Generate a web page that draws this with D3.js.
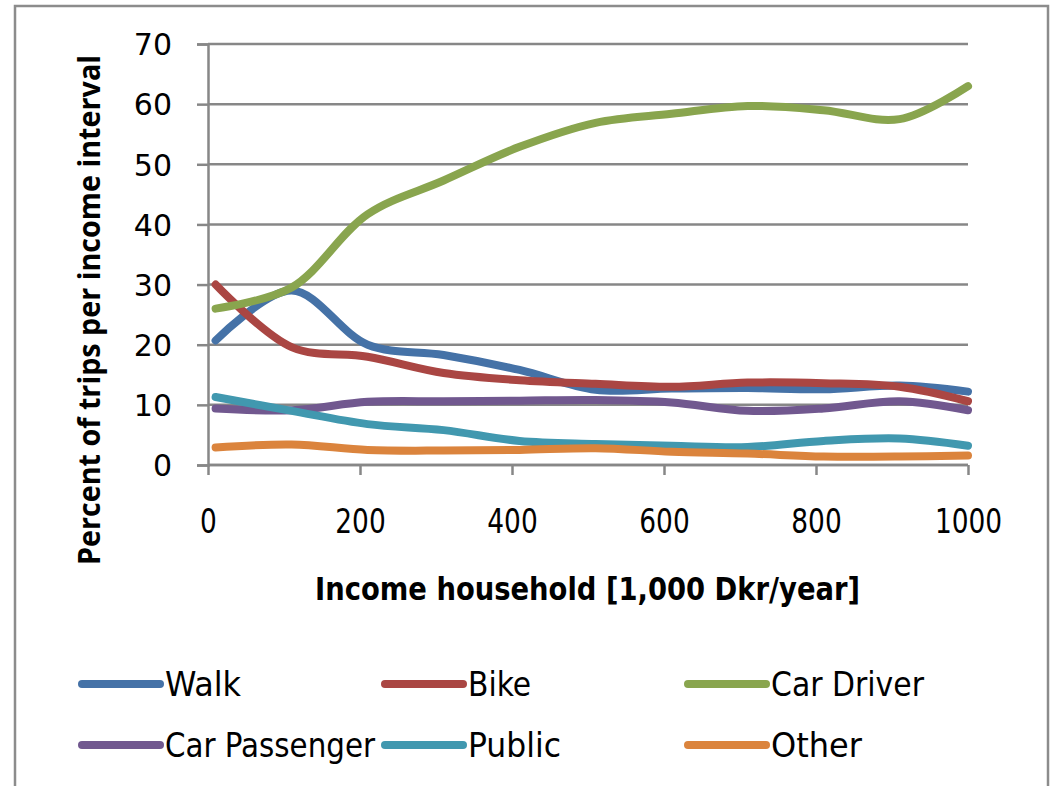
<!DOCTYPE html>
<html><head><meta charset="utf-8">
<script src="https://cdn.jsdelivr.net/npm/d3@7"></script>
<style>body{margin:0;background:#fff}svg{display:block}</style>
</head><body>
<svg id="c" width="1051" height="786"></svg>
<script>
const incomes = [10,110,210,310,410,510,610,710,810,910,1000];
const walk = [20.7,29.0,20.0,18.3,15.8,12.5,12.7,12.8,12.6,13.2,12.2];
const bike = [30.0,19.6,18.0,15.3,14.1,13.5,13.0,13.7,13.6,13.0,10.6];
const carDriver = [26.0,29.5,41.7,47.3,52.9,56.9,58.4,59.7,59.0,57.5,63.0];
const carPassenger = [9.4,9.1,10.5,10.6,10.7,10.8,10.4,9.0,9.4,10.6,9.1];
const publicT = [11.3,9.0,6.8,5.8,4.0,3.5,3.2,3.0,4.0,4.4,3.2];
const other = [2.9,3.4,2.5,2.4,2.5,2.8,2.2,1.9,1.4,1.4,1.6];
const seriesNames = ["Walk","Bike","Car Driver","Car Passenger","Public","Other"];
const seriesColors = ["#4572A7","#AA4643","#89A54E","#71588F","#4198AF","#DB843D"];
const seriesValues = [walk,bike,carDriver,carPassenger,publicT,other];
const xTicks = [0,200,400,600,800,1000];
const yTicks = [0,10,20,30,40,50,60,70];

const svg = d3.select("#c");
const grid = "#878787";
const narrow = "Liberation Sans Narrow, DejaVu Sans Condensed, DejaVu Sans, sans-serif";
// outer frame
svg.append("rect").attr("x",15).attr("y",6).attr("width",1033).attr("height",800)
  .attr("fill","none").attr("stroke","#8c8c8c").attr("stroke-width",2.5);

const x = d3.scaleLinear().domain([0,1000]).range([208,968]);
const y = d3.scaleLinear().domain([0,70]).range([465,44]);

// gridlines + y axis
const yAxis = d3.axisLeft(y).tickValues(yTicks).tickSize(11).tickFormat(d3.format("d"));
const gy = svg.append("g").attr("transform","translate(208,0)").call(yAxis);
gy.select(".domain").attr("stroke",grid).attr("stroke-width",2.5);
gy.selectAll(".tick line").attr("stroke",grid).attr("stroke-width",2.5);
gy.selectAll(".tick text").attr("x",-36).attr("dy","0.36em")
  .attr("font-family","DejaVu Sans, sans-serif").attr("font-size",30).attr("fill","#000");
svg.append("g").selectAll("line").data(yTicks).join("line")
  .attr("x1",208).attr("x2",968).attr("y1",d=>y(d)).attr("y2",d=>y(d))
  .attr("stroke",grid).attr("stroke-width",2.5);

const xAxis = d3.axisBottom(x).tickValues(xTicks).tickSize(10).tickFormat(d3.format("d"));
const gx = svg.append("g").attr("transform","translate(0,465)").call(xAxis);
gx.select(".domain").attr("stroke",grid).attr("stroke-width",2.5).attr("d","M208,0H968");
gx.selectAll(".tick line").attr("stroke",grid).attr("stroke-width",2.5);
gx.selectAll(".tick text").attr("y",68).attr("dy",0)
  .attr("font-family",narrow).attr("font-size",34).attr("fill","#000")
  .attr("textLength",d=>String(d).length*16.8).attr("lengthAdjust","spacingAndGlyphs");

// lines
const line = d3.line().x((d,i)=>x(incomes[i])).y(d=>y(d)).curve(d3.curveCatmullRom.alpha(0.5));
svg.append("g").selectAll("path").data(seriesValues).join("path")
  .attr("d",d=>line(d)).attr("fill","none")
  .attr("stroke",(d,i)=>seriesColors[i]).attr("stroke-width",8)
  .attr("stroke-linecap","round").attr("stroke-linejoin","round");

// axis titles
svg.append("text").attr("x",315).attr("y",600).text("Income household [1,000 Dkr/year]")
  .attr("font-family",narrow)
  .attr("font-weight","bold").attr("font-size",32).attr("textLength",545)
  .attr("lengthAdjust","spacingAndGlyphs");
svg.append("text").attr("transform","translate(100,565) rotate(-90)")
  .text("Percent of trips per income interval")
  .attr("font-family","Open Sans, DejaVu Sans, sans-serif")
  .attr("font-weight","bold").attr("font-size",31).attr("textLength",510)
  .attr("lengthAdjust","spacingAndGlyphs");

// legend
const legX = [82,385,688], legY = [684,745];
const legW = [76,63,153,210,93,91];
const leg = svg.append("g").selectAll("g").data(seriesNames).join("g")
  .attr("transform",(d,i)=>`translate(${legX[i%3]},${legY[Math.floor(i/3)]})`);
leg.append("line").attr("x1",0).attr("x2",78).attr("y1",0).attr("y2",0)
  .attr("stroke",(d,i)=>seriesColors[i]).attr("stroke-width",8).attr("stroke-linecap","round");
leg.append("text").attr("x",83).attr("y",12).text(d=>d)
  .attr("font-family",narrow)
  .attr("font-size",33).attr("textLength",(d,i)=>legW[i]).attr("lengthAdjust","spacingAndGlyphs");
</script>
</body></html>
